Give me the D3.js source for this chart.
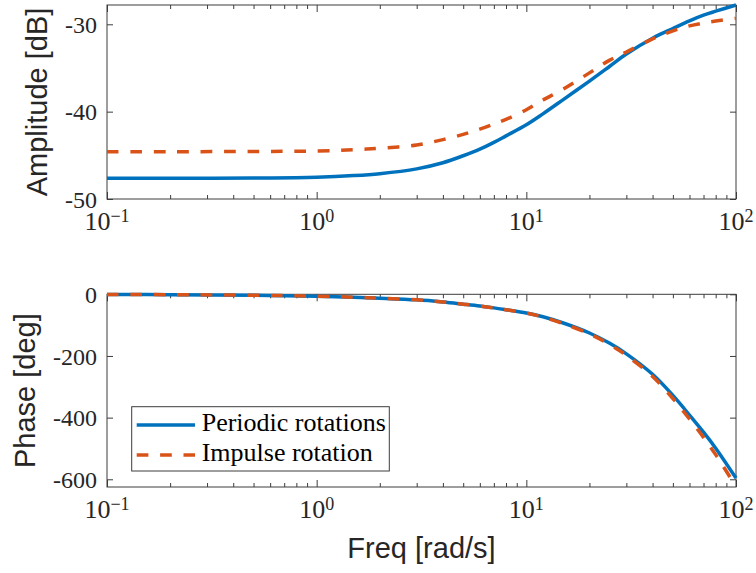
<!DOCTYPE html>
<html>
<head>
<meta charset="utf-8">
<script src="https://cdn.jsdelivr.net/npm/d3@7"></script>
<style>
  body { margin: 0; background: #fff; }
  svg { display: block; }
</style>
</head>
<body>
<svg id="chart" width="756" height="573"></svg>
<script>
// Frequency grid [rad/s]
const freq = [0.1, 0.2, 0.5, 1, 1.5, 2, 3, 4, 5, 6, 7, 8, 10, 12, 15, 20, 25, 30, 40, 50, 60, 70, 80, 100];

// Amplitude [dB]
const ampPeriodic = [-47.62, -47.62, -47.59, -47.5, -47.32, -47.1, -46.55, -45.85, -45.05, -44.3, -43.52, -42.77, -41.5, -40.25, -38.62, -36.5, -34.8, -33.4, -31.6, -30.48, -29.6, -28.95, -28.5, -27.79];
const ampImpulse  = [-44.58, -44.58, -44.56, -44.50, -44.36, -44.19, -43.81, -43.2, -42.6, -42.0, -41.43, -40.89, -39.78, -38.67, -37.42, -35.56, -34.1, -33.17, -31.67, -30.75, -30.18, -29.85, -29.63, -29.32];

// Phase [deg]
const phasePeriodic = [-0.6, -1.2, -3, -6, -9.5, -12.5, -18, -25, -32, -38, -44, -50, -60.6, -73, -93, -125.5, -159, -193, -259.5, -328, -391.5, -447, -499, -596];
const phaseImpulse  = [-0.6, -1.2, -3, -6, -9.5, -12.5, -18, -25, -32, -38, -44, -50, -61, -74, -95, -128.5, -163, -198, -266.5, -338, -404.5, -464, -520, -624];

const seriesNames = ["Periodic rotations", "Impulse rotation"];

// Axis limits and ticks
const freqDomain = [0.1, 100];
const freqTicks = [0.1, 1, 10, 100];
const freqTickExp = ["\u22121", "0", "1", "2"];
const ampDomain = [-50, -27.79];
const ampTicks = [-50, -40, -30];
const phaseDomain = [-625, 0];
const phaseTicks = [-600, -400, -200, 0];

const colors = ["#0072BD", "#D95319"];
const dashes = [null, "11.7,11.7"];
const axisColor = "#3c3c3c";
const serif = "'Liberation Serif', 'Times New Roman', serif";
const sans = "'Liberation Sans', Arial, Helvetica, sans-serif";

const svg = d3.select("#chart");
const left = 107, right = 736;
const x = d3.scaleLog().domain(freqDomain).range([left, right]);
const minorTicks = x.ticks().filter(v => !freqTicks.includes(v));

const panels = [
  { top: 5, bottom: 199, domain: ampDomain, ticks: ampTicks,
    data: [ampPeriodic, ampImpulse], label: "Amplitude [dB]", labelX: 47 },
  { top: 294.3, bottom: 487, domain: phaseDomain, ticks: phaseTicks,
    data: [phasePeriodic, phaseImpulse], label: "Phase [deg]", labelX: 35 }
];

panels.forEach(p => {
  const y = d3.scaleLinear().domain(p.domain).range([p.bottom, p.top]);
  const g = svg.append("g");

  // box
  g.append("rect")
    .attr("x", left).attr("y", p.top)
    .attr("width", right - left).attr("height", p.bottom - p.top)
    .attr("fill", "none").attr("stroke", axisColor).attr("stroke-width", 1);

  // ticks pointing inward on all four sides
  const tickLayer = (axisGen, tx, ty) => {
    const a = g.append("g").attr("transform", `translate(${tx},${ty})`).call(axisGen);
    a.select(".domain").remove();
    a.selectAll(".tick line").attr("stroke", axisColor).attr("stroke-width", 1);
    a.selectAll(".tick text").remove();
  };
  tickLayer(d3.axisBottom(x).tickValues(freqTicks).tickSize(-7), 0, p.bottom);
  tickLayer(d3.axisBottom(x).tickValues(minorTicks).tickSize(-4), 0, p.bottom);
  tickLayer(d3.axisTop(x).tickValues(freqTicks).tickSize(-7), 0, p.top);
  tickLayer(d3.axisTop(x).tickValues(minorTicks).tickSize(-4), 0, p.top);
  tickLayer(d3.axisLeft(y).tickValues(p.ticks).tickSize(-6), left, 0);
  tickLayer(d3.axisRight(y).tickValues(p.ticks).tickSize(-6), right, 0);

  // y tick labels
  g.selectAll(".ylab").data(p.ticks).enter().append("text")
    .attr("x", left - 10).attr("y", d => y(d)).attr("dy", "0.36em")
    .attr("text-anchor", "end")
    .attr("font-family", serif).attr("font-size", 24).attr("fill", "#262626")
    .text(d => String(d));

  // x tick labels: 10^k
  freqTicks.forEach((t, i) => {
    const txt = g.append("text")
      .attr("x", x(t)).attr("y", p.bottom + 31)
      .attr("text-anchor", "middle")
      .attr("font-family", serif).attr("fill", "#262626");
    txt.append("tspan").attr("font-size", 26).text("10");
    txt.append("tspan").attr("font-size", 18).attr("dy", -8).text(freqTickExp[i]);
  });

  // y label
  g.append("text")
    .attr("transform", `translate(${p.labelX},${(p.top + p.bottom) / 2}) rotate(-90)`)
    .attr("text-anchor", "middle")
    .attr("font-family", sans).attr("font-size", 29).attr("fill", "#262626")
    .text(p.label);

  // curves
  const line = d3.line()
    .x((d, i) => x(freq[i]))
    .y(d => y(d))
    .curve(d3.curveCatmullRom.alpha(0.5));
  p.data.forEach((s, si) => {
    g.append("path")
      .datum(s)
      .attr("d", line)
      .attr("fill", "none")
      .attr("stroke", colors[si])
      .attr("stroke-width", 3.5)
      .attr("stroke-dasharray", dashes[si])
      .attr("stroke-linejoin", "round");
  });
});

// x label
svg.append("text")
  .attr("x", (left + right) / 2).attr("y", 558)
  .attr("text-anchor", "middle")
  .attr("font-family", sans).attr("font-size", 29).attr("fill", "#262626")
  .text("Freq [rad/s]");

// legend
const lg = svg.append("g");
lg.append("rect")
  .attr("x", 131.7).attr("y", 406.7).attr("width", 257.6).attr("height", 64.3)
  .attr("fill", "#fff").attr("stroke", axisColor).attr("stroke-width", 1);
seriesNames.forEach((name, i) => {
  const cy = 425 + i * 30;
  lg.append("line")
    .attr("x1", 136.7).attr("x2", 195).attr("y1", cy).attr("y2", cy)
    .attr("stroke", colors[i]).attr("stroke-width", 3.5)
    .attr("stroke-dasharray", dashes[i]);
  lg.append("text")
    .attr("x", 201.7).attr("y", cy + 6)
    .attr("font-family", serif).attr("font-size", 26).attr("fill", "#000")
    .text(name);
});
</script>
</body>
</html>
